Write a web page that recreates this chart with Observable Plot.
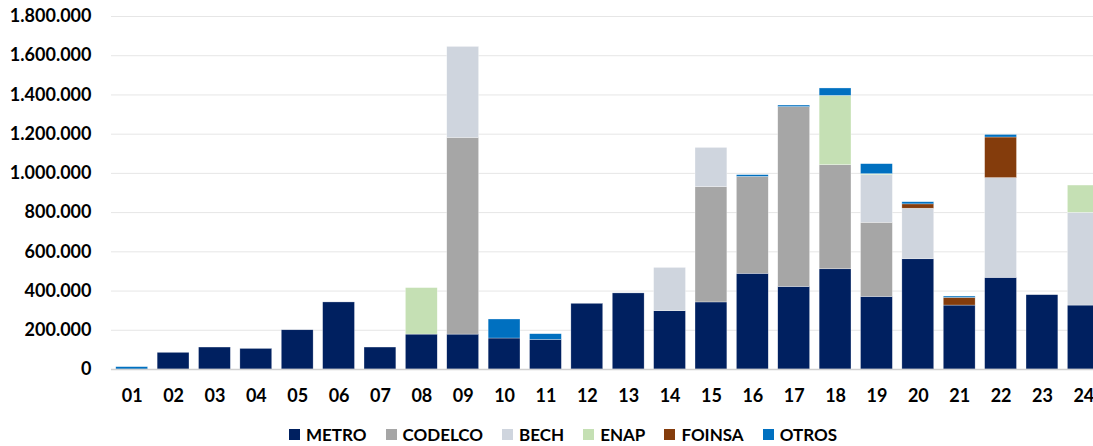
<!DOCTYPE html>
<html>
<head>
<meta charset="utf-8">
<script src="https://cdn.jsdelivr.net/npm/d3@7"></script>
<script src="https://cdn.jsdelivr.net/npm/@observablehq/plot@0.6"></script>
<style>
  html, body { margin: 0; padding: 0; background: #fff; overflow: hidden; width: 1093px; height: 446px; }
  #wrap { position: relative; width: 1093px; height: 446px; overflow: hidden; }
  #chart { position: absolute; left: 0; top: 0; width: 1104px; }
  #chart svg { max-width: none !important; }
  #legend { position: absolute; top: 424px; left: 289px; display: flex; align-items: center;
    font-family: Lato, "Liberation Sans", sans-serif; font-weight: bold; font-size: 17px; color: #000; white-space: nowrap; }
  .item { display: flex; align-items: center; margin-right: 19px; }
  .sw { width: 11px; height: 11px; margin-right: 6px; display: inline-block; }
</style>
</head>
<body>
<div id="wrap"><div id="chart"></div><div id="legend"></div></div>
<script>
const categories = ["01","02","03","04","05","06","07","08","09","10","11","12","13","14","15","16","17","18","19","20","21","22","23","24"];
const seriesNames = ["METRO", "CODELCO", "BECH", "ENAP", "FOINSA", "OTROS"];
const seriesColors = ["#002060", "#A6A6A6", "#CFD5DE", "#C5E0B4", "#843C0C", "#0070C0"];
const metro   = [0, 85000, 112000, 105000, 200000, 342000, 112000, 178000, 178000, 158000, 151000, 335000, 388000, 297000, 342000, 488000, 421000, 511000, 370000, 562000, 326000, 467000, 379000, 326000];
const codelco = [0, 0, 0, 0, 0, 0, 0, 0, 1003000, 0, 0, 0, 0, 0, 588000, 494000, 917000, 531000, 378000, 0, 0, 0, 0, 0];
const bech    = [0, 0, 0, 0, 0, 0, 0, 0, 464000, 0, 0, 0, 0, 221000, 200000, 0, 0, 0, 243000, 258000, 0, 509000, 0, 473000];
const enap    = [0, 0, 0, 0, 0, 0, 0, 237000, 0, 0, 0, 0, 0, 0, 0, 0, 0, 353000, 5000, 0, 0, 0, 0, 139000];
const foinsa  = [0, 0, 0, 0, 0, 0, 0, 0, 0, 0, 0, 0, 0, 0, 0, 0, 0, 0, 0, 22000, 39000, 207000, 0, 0];
const otros   = [12000, 0, 0, 0, 0, 0, 0, 0, 0, 97000, 29000, 0, 0, 0, 0, 9000, 8000, 38000, 51000, 11000, 7000, 13000, 0, 0];
const yTicks = [0, 200000, 400000, 600000, 800000, 1000000, 1200000, 1400000, 1600000, 1800000];

const seriesValues = [metro, codelco, bech, enap, foinsa, otros];
const data = [];
seriesNames.forEach((s, si) => {
  categories.forEach((c, ci) => {
    data.push({category: c, series: s, value: seriesValues[si][ci]});
  });
});

const fmt = v => d3.format(",")(v).replace(/,/g, ".");

const chart = Plot.plot({
  width: 1104,
  height: 412,
  marginTop: 16,
  marginBottom: 43,
  marginLeft: 111,
  marginRight: 0,
  style: {fontFamily: "Lato, 'Liberation Sans', sans-serif", fontWeight: "bold", color: "#000", background: "#fff", maxWidth: "none"},
  x: {type: "band", domain: categories, paddingInner: 0.23, paddingOuter: 0.115, round: false, label: null},
  y: {domain: [0, 1800000], label: null},
  color: {domain: seriesNames, range: seriesColors},
  marks: [
    Plot.gridY(yTicks, {stroke: "#e6e6e6", strokeOpacity: 1, strokeWidth: 1}),
    Plot.barY(data, Plot.stackY({order: seriesNames}, {x: "category", y: "value", fill: "series", stroke: "#ffffff", strokeWidth: 0.5, strokeOpacity: 0.6})),
    Plot.ruleY([0], {stroke: "#d0d0d0", strokeWidth: 1.5}),
    Plot.axisY(yTicks, {tickSize: 0, tickPadding: 20, tickFormat: fmt, fontSize: 18, fontWeight: "bold", fill: "#000", label: null}),
    Plot.axisX({tickSize: 0, tickPadding: 20, fontSize: 18, fontWeight: "bold", fill: "#000", label: null})
  ]
});
document.getElementById("chart").appendChild(chart);

const legend = document.getElementById("legend");
seriesNames.forEach((s, i) => {
  const item = document.createElement("div");
  item.className = "item";
  const sw = document.createElement("span");
  sw.className = "sw";
  sw.style.background = seriesColors[i];
  const t = document.createElement("span");
  t.textContent = s;
  item.appendChild(sw);
  item.appendChild(t);
  legend.appendChild(item);
});
</script>
</body>
</html>
